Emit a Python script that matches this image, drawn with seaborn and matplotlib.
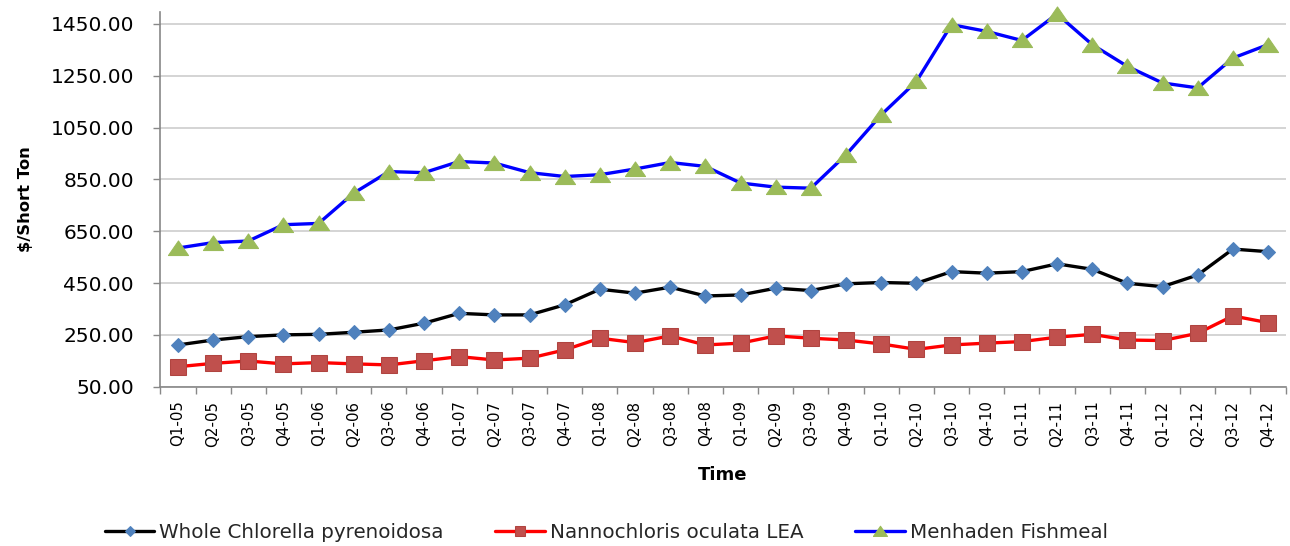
import matplotlib
matplotlib.use("Agg")
import matplotlib.pyplot as plt
import numpy as np
import pandas as pd
import seaborn as sns
from matplotlib.ticker import FixedLocator, FuncFormatter

quarters = [
    "Q1-05", "Q2-05", "Q3-05", "Q4-05", "Q1-06", "Q2-06", "Q3-06", "Q4-06",
    "Q1-07", "Q2-07", "Q3-07", "Q4-07", "Q1-08", "Q2-08", "Q3-08", "Q4-08",
    "Q1-09", "Q2-09", "Q3-09", "Q4-09", "Q1-10", "Q2-10", "Q3-10", "Q4-10",
    "Q1-11", "Q2-11", "Q3-11", "Q4-11", "Q1-12", "Q2-12", "Q3-12", "Q4-12",
]

chlorella = [211, 230, 243, 250, 252, 260, 269, 295,
             333, 327, 327, 366, 426, 411, 434, 400,
             404, 430, 421, 447, 452, 449, 494, 488,
             494, 524, 503, 449, 436, 481, 581, 571]

nannochloris = [127, 140, 149, 138, 143, 138, 134, 150,
                166, 153, 160, 192, 237, 220, 246, 211,
                218, 246, 237, 230, 215, 194, 211, 218,
                224, 241, 252, 230, 228, 256, 323, 297]

menhaden = [585, 606, 612, 675, 680, 797, 880, 876,
            919, 913, 876, 861, 868, 890, 915, 900,
            836, 820, 816, 945, 1099, 1228, 1447, 1421,
            1386, 1488, 1370, 1286, 1222, 1203, 1318, 1370]

series_names = ["Whole Chlorella pyrenoidosa", "Nannochloris oculata LEA", "Menhaden Fishmeal"]
y_ticks = [50, 250, 450, 650, 850, 1050, 1250, 1450]

sns.set_theme(style="white")
plt.rcParams["font.family"] = ["DejaVu Sans"]

fig = plt.figure(figsize=(12.9, 5.46), dpi=100)
ax = fig.add_axes([0.1243, 0.2918, 0.8723, 0.6863])

# wide, flat triangle used for the fishmeal series
flat_triangle = [(-1.0, -0.7), (1.0, -0.7), (0.0, 0.75), (-1.0, -0.7)]

pos = np.arange(len(quarters))
styles = [
    dict(color="black", marker="D", markersize=6.8, markerfacecolor="#4f81bd", markeredgecolor="#4f81bd"),
    dict(color="#ff0000", marker="s", markersize=11, markerfacecolor="#c0504d", markeredgecolor="#b04440"),
    dict(color="#0000ff", marker=flat_triangle, markersize=14.5, markerfacecolor="#9bbb59", markeredgecolor="#9bbb59"),
]
for name, values, st in zip(series_names, [chlorella, nannochloris, menhaden], styles):
    df = pd.DataFrame({"pos": pos, "value": values})
    sns.lineplot(data=df, x="pos", y="value", ax=ax, linewidth=2.4, label=name,
                 clip_on=False, zorder=3, **st)

ax.set_xlim(-0.5, len(quarters) - 0.5)
ax.set_ylim(50, 1496)

ax.yaxis.set_major_locator(FixedLocator(y_ticks))
ax.yaxis.set_major_formatter(FuncFormatter(lambda v, p: f"{v:.2f}"))
ax.grid(axis="y", color="#d4d4d4", linewidth=1.4, zorder=0)
ax.grid(axis="x", visible=False)

ax.set_xticks(pos)
ax.set_xticklabels(quarters, rotation=90)
ax.set_xticks(np.arange(-0.5, len(quarters)), minor=True)
ax.tick_params(axis="x", which="major", length=0, pad=10, labelsize=10.8, colors="black")
ax.tick_params(axis="x", which="minor", length=5, width=1, color="#888888", direction="out", bottom=True)
ax.tick_params(axis="y", which="major", length=5, width=1, color="#888888", direction="out",
               left=True, pad=14, labelsize=14.5, labelcolor="black")

for side in ["top", "right"]:
    ax.spines[side].set_visible(False)
for side in ["left", "bottom"]:
    ax.spines[side].set_color("#888888")
    ax.spines[side].set_linewidth(1.2)

ax.set_xlabel("Time", fontsize=13, fontweight="bold", labelpad=14, color="black")
ax.set_ylabel("$/Short Ton", fontsize=11.8, fontweight="bold", color="black")
ax.yaxis.set_label_coords(-0.113, 0.5)

ax.get_legend().remove()
handles, labels = ax.get_legend_handles_labels()
fig.legend(handles, labels, loc="center", bbox_to_anchor=(0.47, 0.024), ncol=3, frameon=False,
           fontsize=14.3, handlelength=2.5, handletextpad=0.25, columnspacing=2.6,
           markerscale=0.7, borderaxespad=0, borderpad=0)

fig.savefig("out.png", dpi=100)
